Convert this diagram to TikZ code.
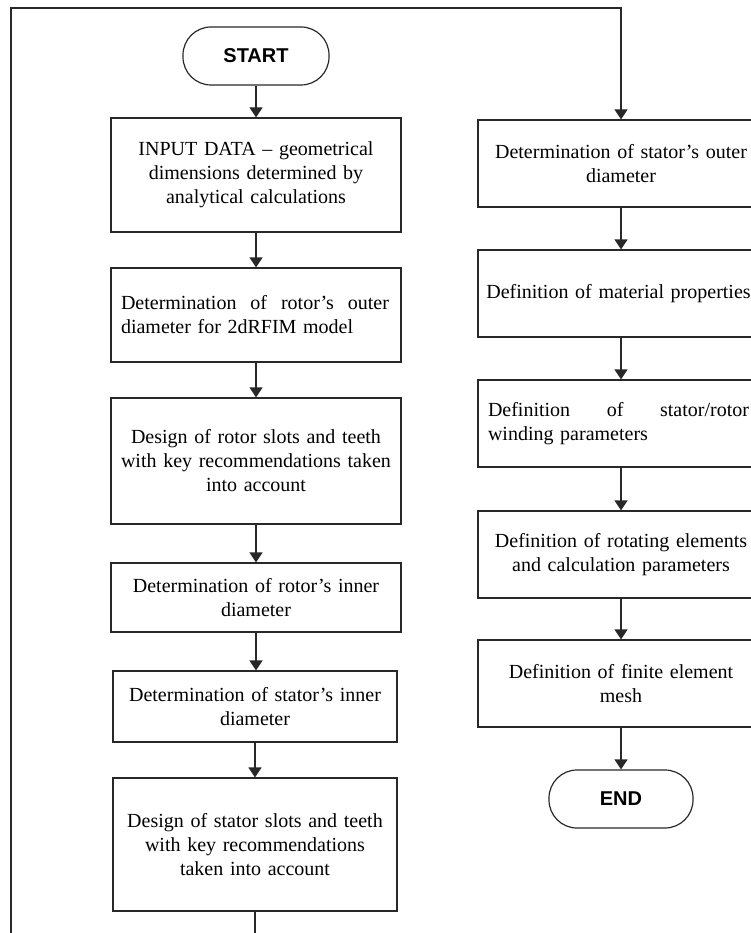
\documentclass[tikz,border=0pt]{standalone}
\usepackage{fontspec}
\setmainfont{Liberation Serif}
\newfontfamily\headfont{Liberation Sans}
\usetikzlibrary{arrows.meta}
\definecolor{ln}{RGB}{40,40,40}
\begin{document}
\begin{tikzpicture}[x=1pt,y=-1pt,
  box/.style={draw=ln, line width=1.2pt, rectangle, inner sep=0pt, align=center,
    font=\fontsize{20}{24}\selectfont, text=black},
  lbox/.style={box, minimum width=290pt, text width=270pt},
  rbox/.style={box, minimum width=286pt, text width=266pt, minimum height=87pt},
  term/.style={draw=ln, line width=1.2pt, rounded corners=28pt, inner sep=0pt,
    minimum height=58pt, font=\headfont\bfseries\fontsize{20}{24}\selectfont},
  arr/.style={draw=ln, line width=1.2pt, -{Triangle[length=10pt,width=13pt]}},
  conn/.style={draw=ln, line width=1.2pt}]
\useasboundingbox (0,0) rectangle (751,933);
\clip (0,0) rectangle (751,933);

% left column
\node[term, minimum width=146pt] (start) at (256,56) {START};
\node[lbox, minimum height=114pt] (input) at (256,175)
  {INPUT DATA – geometrical\\dimensions determined by\\analytical calculations};
\node[lbox, minimum height=94pt, align=left] (rout) at (256,315)
  {\hbox to 268pt{Determination\hfill of\hfill rotor’s\hfill outer}\\diameter for 2dRFIM model};
\node[lbox, minimum height=126pt] (rslot) at (256,461)
  {Design of rotor slots and teeth\\with key recommendations taken\\into account};
\node[lbox, minimum height=69pt] (rin) at (256,597.5)
  {Determination of rotor’s inner\\diameter};
\node[lbox, minimum width=284pt, minimum height=71pt] (sin) at (255,706.5)
  {Determination of stator’s inner\\diameter};
\node[lbox, minimum width=284pt, minimum height=133pt] (sslot) at (255,844.5)
  {Design of stator slots and teeth\\with key recommendations\\taken into account};

% right column
\node[rbox] (r1) at (621,163.5) {Determination of stator’s outer\\diameter};
\node[rbox] (r2) at (621,293.5) {\hspace*{-5pt}Definition of material properties};
\node[rbox, align=left] (r3) at (621,423.5)
  {\hbox to 261pt{Definition\hfill of\hfill stator/rotor}\\winding parameters};
\node[rbox] (r4) at (621,554.5) {Definition of rotating elements\\and calculation parameters};
\node[rbox] (r5) at (621,683.5) {Definition of finite element\\mesh};
\node[term, minimum width=144pt] (end) at (621,799) {END};

% connectors left
\draw[arr] (start.south) -- (start.south |- input.north);
\draw[arr] (input.south) -- (input.south |- rout.north);
\draw[arr] (rout.south) -- (rout.south |- rslot.north);
\draw[arr] (rslot.south) -- (rslot.south |- rin.north);
\draw[arr] (rin.south) -- (rin.south |- sin.north);
\draw[arr] (sin.south) -- (sin.south |- sslot.north);

% loop to right column
\coordinate (loopB) at (255,960);
\coordinate (loopL) at (11,8);
\draw[arr] (sslot.south) -- (loopB) -| (loopL) -| (r1.north);

% connectors right
\draw[arr] (r1.south) -- (r1.south |- r2.north);
\draw[arr] (r2.south) -- (r2.south |- r3.north);
\draw[arr] (r3.south) -- (r3.south |- r4.north);
\draw[arr] (r4.south) -- (r4.south |- r5.north);
\draw[arr] (r5.south) -- (r5.south |- end.north);
\end{tikzpicture}
\end{document}
